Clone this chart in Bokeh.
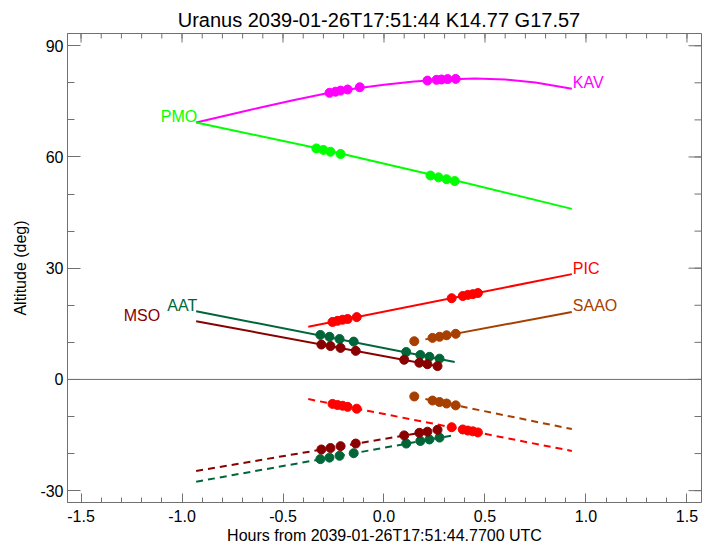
import numpy as np
from bokeh.plotting import figure
from bokeh.models import LinearAxis, FixedTicker, Span, Label, Range1d
from bokeh.embed import file_html
from bokeh.resources import INLINE

# ---------------- data ----------------
title_text = "Uranus 2039-01-26T17:51:44  K14.77  G17.57"
x_label = "Hours from 2039-01-26T17:51:44.7700 UTC"
y_label = "Altitude (deg)"

x_ticks = [-1.5, -1.0, -0.5, 0.0, 0.5, 1.0, 1.5]
x_tick_labels = ["-1.5", "-1.0", "-0.5", "0.0", "0.5", "1.0", "1.5"]
x_minor_ticks = [-1.5, -1.4, -1.3, -1.2, -1.1, -1.0, -0.9, -0.8, -0.7, -0.6, -0.5, -0.4, -0.3,
                 -0.2, -0.1, 0.0, 0.1, 0.2, 0.3, 0.4, 0.5, 0.6, 0.7, 0.8, 0.9, 1.0, 1.1, 1.2,
                 1.3, 1.4, 1.5]
y_ticks = [-30, 0, 30, 60, 90]
y_tick_labels = ["-30", "0", "30", "60", "90"]
y_minor_ticks = [-30, -20, -10, 0, 10, 20, 30, 40, 50, 60, 70, 80, 90]

x_lo, x_hi = -1.567, 1.572
y_lo, y_hi = -33.2, 93.3

# KAV (magenta)
kav_hours = [-0.93, -0.75, -0.6, -0.45, -0.3, -0.15, 0.0, 0.15, 0.3, 0.45, 0.6, 0.75, 0.93]
kav_alt = [69.3, 71.6, 73.5, 75.3, 77.0, 78.4, 79.5, 80.35, 80.9, 81.15, 80.9, 80.1, 78.4]
kav_dot_hours = [-0.27, -0.24, -0.215, -0.18, -0.12, 0.215, 0.26, 0.285, 0.315, 0.355]
kav_dot_alt = [77.3, 77.6, 77.9, 78.2, 78.8, 80.6, 80.8, 80.9, 81.0, 81.05]

# PMO (green)
pmo_hours = [-0.93, -0.3, 0.3, 0.93]
pmo_alt = [69.3, 62.0, 54.4, 46.0]
pmo_dot_hours = [-0.335, -0.30, -0.265, -0.215, 0.23, 0.27, 0.31, 0.35]
pmo_dot_alt = [62.3, 61.9, 61.4, 60.8, 55.0, 54.5, 54.0, 53.5]

# PIC (red)
pic_hours = [-0.375, 0.93]
pic_alt = [14.2, 28.4]
pic_dash_alt = [-5.3, -19.3]
pic_dot_hours = [-0.255, -0.23, -0.205, -0.18, -0.135, 0.335, 0.39, 0.415, 0.44, 0.465]
pic_dot_alt = [15.5, 15.8, 16.1, 16.3, 16.8, 21.9, 22.5, 22.8, 23.0, 23.3]
pic_dash_dot_alt = [-6.6, -6.9, -7.1, -7.4, -7.9, -12.9, -13.5, -13.8, -14.0, -14.3]

# SAAO (brown)
saao_hours = [0.205, 0.93]
saao_alt = [10.8, 18.2]
saao_dash_alt = [-5.3, -13.4]
saao_dot_hours = [0.15, 0.24, 0.275, 0.31, 0.355]
saao_dot_alt = [10.3, 11.2, 11.5, 11.9, 12.3]
saao_dash_dot_alt = [-4.6, -5.7, -6.1, -6.5, -7.0]

# AAT (dark green)
aat_hours = [-0.93, 0.35]
aat_alt = [18.4, 4.7]
aat_dash_alt = [-27.6, -15.0]
aat_dot_hours = [-0.315, -0.27, -0.22, -0.15, 0.11, 0.18, 0.225, 0.275]
aat_dot_alt = [12.0, 11.5, 10.9, 10.2, 7.4, 6.6, 6.1, 5.6]
aat_dash_dot_alt = [-21.5, -21.1, -20.6, -19.9, -17.3, -16.6, -16.2, -15.7]

# MSO (dark red)
mso_hours = [-0.93, 0.275]
mso_alt = [15.7, 3.5]
mso_dash_alt = [-24.7, -13.5]
mso_dot_hours = [-0.31, -0.265, -0.215, -0.14, 0.10, 0.175, 0.215, 0.265]
mso_dot_alt = [9.4, 9.0, 8.5, 7.7, 5.3, 4.5, 4.1, 3.6]
mso_dash_dot_alt = [-18.9, -18.5, -18.0, -17.3, -15.1, -14.4, -14.1, -13.6]

# ---------------- styles ----------------
FONT = "Liberation Sans"
C_KAV = "#FF00FF"
C_PMO = "#00FF00"
C_PIC = "#FF0000"
C_SAAO = "#A63F00"
C_AAT = "#00663A"
C_MSO = "#880000"
AXIS_C = "#707070"
LW = 2
DASH = "7 5"
DOT = 9

p = figure(width=710, height=546, output_backend="svg", toolbar_location=None,
           x_range=Range1d(x_lo, x_hi), y_range=Range1d(y_lo, y_hi),
           min_border_left=67, min_border_right=9, min_border_bottom=44, min_border_top=33,
           x_axis_type=None, y_axis_type=None)
p.title.text = title_text
p.title.align = "center"
p.title.text_font = FONT
p.title.text_font_size = "20px"
p.title.text_font_style = "normal"
p.title.text_color = "black"
p.title.standoff = 5
p.outline_line_color = AXIS_C
p.grid.visible = False
p.background_fill_color = "white"
p.border_fill_color = "white"

xt = FixedTicker(ticks=x_ticks, minor_ticks=x_minor_ticks)
yt = FixedTicker(ticks=y_ticks, minor_ticks=y_minor_ticks)


def style_axis(ax, major_in, minor_in):
    ax.axis_line_color = AXIS_C
    ax.major_tick_line_color = AXIS_C
    ax.minor_tick_line_color = AXIS_C
    ax.major_tick_in = major_in
    ax.major_tick_out = 0
    ax.minor_tick_in = minor_in
    ax.minor_tick_out = 0
    ax.major_label_text_font = FONT
    ax.major_label_text_color = "black"
    ax.major_label_text_font_size = "16px"
    ax.axis_label_text_font = FONT
    ax.axis_label_text_font_style = "normal"
    ax.axis_label_text_color = "black"
    ax.axis_label_text_font_size = "16px"


xb = LinearAxis(ticker=xt, axis_label=x_label,
                major_label_overrides=dict(zip(x_ticks, x_tick_labels)))
style_axis(xb, 9, 5)
xb.major_label_standoff = 7
xb.axis_label_standoff = 2
p.add_layout(xb, "below")

yl = LinearAxis(ticker=yt, axis_label=y_label,
                major_label_overrides=dict(zip(y_ticks, y_tick_labels)))
style_axis(yl, 13, 7)
yl.major_label_standoff = 4
yl.axis_label_standoff = 8
p.add_layout(yl, "left")

# mirrored ticks on top and right edges (half of each dash is clipped by the frame)
p.scatter(x_ticks, [y_hi] * len(x_ticks), marker="dash", angle=np.pi / 2, size=18,
          line_color=AXIS_C, line_width=1)
p.scatter(x_minor_ticks, [y_hi] * len(x_minor_ticks), marker="dash", angle=np.pi / 2, size=10,
          line_color=AXIS_C, line_width=1)
p.scatter([x_hi] * len(y_ticks), y_ticks, marker="dash", size=26,
          line_color=AXIS_C, line_width=1)
p.scatter([x_hi] * len(y_minor_ticks), y_minor_ticks, marker="dash", size=14,
          line_color=AXIS_C, line_width=1)

p.add_layout(Span(location=0, dimension="width", line_color=AXIS_C, line_width=1))

# solid curves
p.line(kav_hours, kav_alt, line_color=C_KAV, line_width=LW)
p.line(pmo_hours, pmo_alt, line_color=C_PMO, line_width=LW)
p.line(pic_hours, pic_alt, line_color=C_PIC, line_width=LW)
p.line(saao_hours, saao_alt, line_color=C_SAAO, line_width=LW)
p.line(aat_hours, aat_alt, line_color=C_AAT, line_width=LW)
p.line(mso_hours, mso_alt, line_color=C_MSO, line_width=LW)

# dashed curves
p.line(pic_hours, pic_dash_alt, line_color=C_PIC, line_width=LW, line_dash=DASH)
p.line(saao_hours, saao_dash_alt, line_color=C_SAAO, line_width=LW, line_dash=DASH)
p.line(aat_hours, aat_dash_alt, line_color=C_AAT, line_width=LW, line_dash=DASH)
p.line(mso_hours, mso_dash_alt, line_color=C_MSO, line_width=LW, line_dash=DASH)

# observation dots
for hrs, alts, c in [
    (kav_dot_hours, kav_dot_alt, C_KAV),
    (pmo_dot_hours, pmo_dot_alt, C_PMO),
    (pic_dot_hours, pic_dot_alt, C_PIC),
    (pic_dot_hours, pic_dash_dot_alt, C_PIC),
    (saao_dot_hours, saao_dot_alt, C_SAAO),
    (saao_dot_hours, saao_dash_dot_alt, C_SAAO),
    (aat_dot_hours, aat_dot_alt, C_AAT),
    (aat_dot_hours, aat_dash_dot_alt, C_AAT),
    (mso_dot_hours, mso_dot_alt, C_MSO),
    (mso_dot_hours, mso_dash_dot_alt, C_MSO),
]:
    p.scatter(hrs, alts, size=DOT, marker="circle", fill_color=c, line_color=c)

# station labels at curve ends
labels = [
    ("KAV", kav_hours[-1], kav_alt[-1], C_KAV, "left", 1),
    ("PIC", pic_hours[-1], pic_alt[-1], C_PIC, "left", 1),
    ("SAAO", saao_hours[-1], saao_alt[-1], C_SAAO, "left", 1),
    ("PMO", pmo_hours[0], pmo_alt[0], C_PMO, "right", 1),
    ("AAT", aat_hours[0], aat_alt[0], C_AAT, "right", 1),
    ("MSO", mso_hours[0], mso_alt[0], C_MSO, "right", -36),
]
for txt, x, y, c, al, xo in labels:
    p.add_layout(Label(x=x, y=y, text=txt, text_color=c, text_font=FONT,
                       text_font_size="16px", text_align=al, text_baseline="alphabetic",
                       x_offset=xo, y_offset=6))

open("out.html", "w").write(file_html(p, INLINE))
